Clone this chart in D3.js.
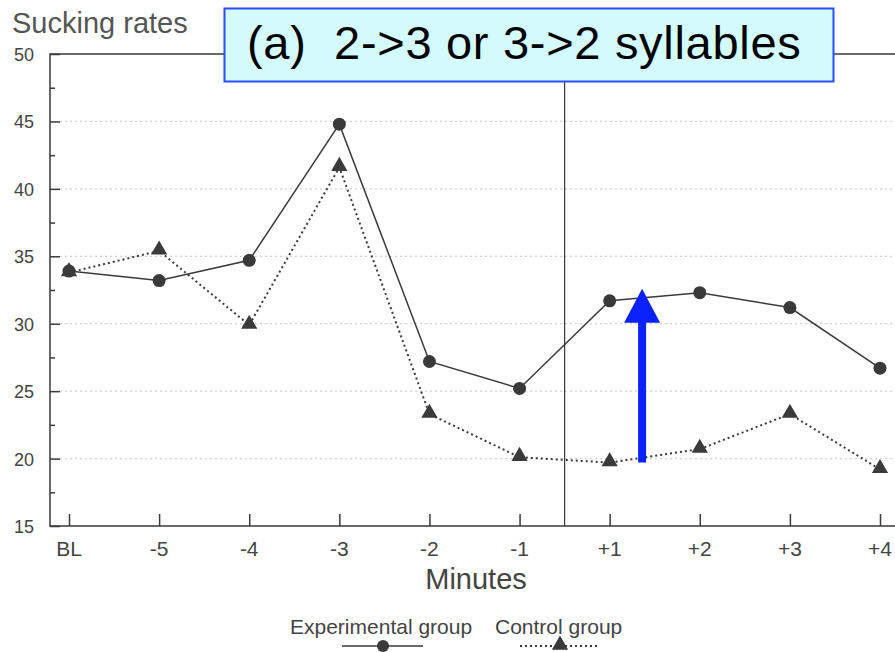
<!DOCTYPE html>
<html>
<head>
<meta charset="utf-8">
<script src="https://cdn.jsdelivr.net/npm/d3@7"></script>
<style>
  body { margin: 0; background: #fff; }
  svg { display: block; font-family: "Liberation Sans", Arial, sans-serif; }
</style>
</head>
<body>
<svg id="chart" width="895" height="652"></svg>
<script>
var minutes = ["BL", "-5", "-4", "-3", "-2", "-1", "+1", "+2", "+3", "+4"]
var experimental = [33.9, 33.2, 34.7, 44.8, 27.2, 25.2, 31.7, 32.3, 31.2, 26.7]
var control = [33.8, 35.4, 29.9, 41.6, 23.3, 20.1, 19.7, 20.7, 23.3, 19.2]
var yTicks = [15, 20, 25, 30, 35, 40, 45, 50]
var gridValues = [20, 25, 30, 35, 40, 45]
var arrowFrom = 19.7, arrowTo = 32.6   // blue annotation arrow (sucking rate values)

var svg = d3.select("#chart")
var ink = "#3a3a3a"

var x = d3.scalePoint().domain(minutes).range([69, 880])
var y = d3.scaleLinear().domain([15, 50]).range([526, 54])
var left = 50, right = 895

// faint dotted grid
svg.append("g")
    .selectAll("line")
    .data(gridValues)
    .enter().append("line")
    .attr("x1", left + 10)
    .attr("x2", right)
    .attr("y1", d => y(d))
    .attr("y2", d => y(d))
    .attr("stroke", "#d0d0d0")
    .attr("stroke-width", 1.2)
    .attr("stroke-dasharray", "2,3")

// frame: left axis, bottom axis, top line
svg.append("path")
    .attr("d", `M${right},${y(50)}H${left}V${y(15)}H${right}`)
    .attr("fill", "none")
    .attr("stroke", ink)
    .attr("stroke-width", 1.5)

// divider between -1 and +1
var divX = (x("-1") + x("+1")) / 2
svg.append("line")
    .attr("x1", divX).attr("x2", divX)
    .attr("y1", y(50)).attr("y2", y(15))
    .attr("stroke", ink)
    .attr("stroke-width", 1.2)

// y ticks (major + minor), pointing inward
var yAxis = d3.axisRight(y).tickValues(yTicks).tickSize(10).tickFormat("")
svg.append("g")
    .attr("transform", `translate(${left},0)`)
    .call(yAxis)
    .call(g => g.select(".domain").remove())
    .selectAll("line").attr("stroke", ink).attr("stroke-width", 1.5)
svg.append("g")
    .attr("transform", `translate(${left},0)`)
    .call(d3.axisRight(y).tickValues(d3.range(17.5, 50, 5)).tickSize(5).tickFormat(""))
    .call(g => g.select(".domain").remove())
    .selectAll("line").attr("stroke", ink).attr("stroke-width", 1.5)

svg.append("g")
    .selectAll("text")
    .data(yTicks)
    .enter().append("text")
    .attr("x", 34)
    .attr("y", d => y(d) + 7)
    .attr("text-anchor", "end")
    .attr("fill", "#444")
    .attr("font-size", 18)
    .text(d => d)

// x ticks pointing up
svg.append("g")
    .attr("transform", `translate(0,${y(15)})`)
    .call(d3.axisTop(x).tickSize(12).tickFormat(""))
    .call(g => g.select(".domain").remove())
    .selectAll("line").attr("stroke", ink).attr("stroke-width", 1.5)

svg.append("g")
    .selectAll("text")
    .data(minutes)
    .enter().append("text")
    .attr("x", d => x(d))
    .attr("y", 556)
    .attr("text-anchor", "middle")
    .attr("fill", "#444")
    .attr("font-size", 21)
    .text(d => d)

svg.append("text")
    .attr("x", 476)
    .attr("y", 589)
    .attr("text-anchor", "middle")
    .attr("fill", "#444")
    .attr("font-size", 29)
    .text("Minutes")

svg.append("text")
    .attr("x", 12)
    .attr("y", 33)
    .attr("fill", "#555")
    .attr("font-size", 29)
    .text("Sucking rates")

// series
var line = d3.line().x((d, i) => x(minutes[i])).y(d => y(d))
var tri = d3.symbol().type(d3.symbolTriangle).size(115)

svg.append("path")
    .datum(control)
    .attr("d", line)
    .attr("fill", "none")
    .attr("stroke", ink)
    .attr("stroke-width", 2)
    .attr("stroke-dasharray", "2,3")

svg.append("path")
    .datum(experimental)
    .attr("d", line)
    .attr("fill", "none")
    .attr("stroke", ink)
    .attr("stroke-width", 1.5)

svg.append("g")
    .selectAll("circle")
    .data(experimental)
    .enter().append("circle")
    .attr("cx", (d, i) => x(minutes[i]))
    .attr("cy", d => y(d))
    .attr("r", 6.5)
    .attr("fill", ink)

svg.append("g")
    .selectAll("path")
    .data(control)
    .enter().append("path")
    .attr("d", tri)
    .attr("transform", (d, i) => `translate(${x(minutes[i])},${y(d) - 1})`)
    .attr("fill", ink)

// legend
svg.append("text").attr("x", 290).attr("y", 634).attr("fill", "#444").attr("font-size", 21)
    .text("Experimental group")
svg.append("text").attr("x", 495).attr("y", 634).attr("fill", "#444").attr("font-size", 21)
    .text("Control group")
svg.append("line").attr("x1", 342).attr("x2", 423).attr("y1", 646).attr("y2", 646)
    .attr("stroke", ink).attr("stroke-width", 1.5)
svg.append("circle").attr("cx", 383).attr("cy", 646).attr("r", 6).attr("fill", ink)
svg.append("line").attr("x1", 520).attr("x2", 600).attr("y1", 646).attr("y2", 646)
    .attr("stroke", ink).attr("stroke-width", 2).attr("stroke-dasharray", "2,3")
svg.append("path").attr("d", tri).attr("transform", "translate(560,645)").attr("fill", ink)

// blue arrow annotation
var arrowX = x("+1") + 0.36 * x.step()
var headLen = 34, headHalf = 18
svg.append("line")
    .attr("x1", arrowX).attr("x2", arrowX)
    .attr("y1", y(arrowFrom)).attr("y2", y(arrowTo) + headLen - 2)
    .attr("stroke", "#0a22ff")
    .attr("stroke-width", 8)
svg.append("path")
    .attr("d", `M${arrowX},${y(arrowTo)}L${arrowX + headHalf},${y(arrowTo) + headLen}L${arrowX - headHalf},${y(arrowTo) + headLen}Z`)
    .attr("fill", "#0a22ff")

// title box
svg.append("rect")
    .attr("x", 224.5).attr("y", 8.5)
    .attr("width", 609).attr("height", 73)
    .attr("fill", "#d4fcff")
    .attr("stroke", "#2a4cff")
    .attr("stroke-width", 2)
svg.append("text")
    .attr("x", 247)
    .attr("y", 59)
    .attr("fill", "#000")
    .attr("font-size", 47)
    .attr("letter-spacing", 0.7)
    .text("(a)\u00a0 2->3 or 3->2 syllables")
</script>
</body>
</html>
